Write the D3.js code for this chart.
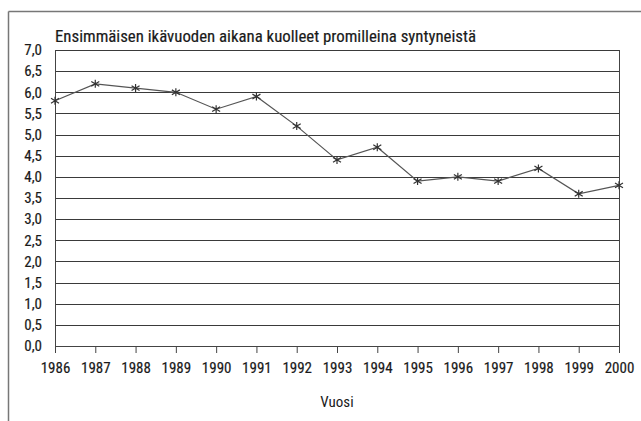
<!DOCTYPE html>
<html>
<head>
<meta charset="utf-8">
<script src="https://cdn.jsdelivr.net/npm/d3@7"></script>
<style>
  body { margin: 0; background: #fff; }
  text { font-family: "Liberation Sans Narrow", "Roboto Condensed", "Liberation Sans", sans-serif; fill: #1a1a1a; stroke: #1a1a1a; stroke-width: 0.18px; }
</style>
</head>
<body>
<div id="viz"></div>
<script>
// vuodet ja kuolleisuus (promillea)
const years = [1986, 1987, 1988, 1989, 1990, 1991, 1992, 1993, 1994, 1995, 1996, 1997, 1998, 1999, 2000];
const deaths = [5.8, 6.2, 6.1, 6.0, 5.6, 5.9, 5.2, 4.4, 4.7, 3.9, 4.0, 3.9, 4.2, 3.6, 3.8];
const yTicks = [0, 0.5, 1, 1.5, 2, 2.5, 3, 3.5, 4, 4.5, 5, 5.5, 6, 6.5, 7];
const title = "Ensimmäisen ikävuoden aikana kuolleet promilleina syntyneistä";
const xTitle = "Vuosi";

const width = 641, height = 421;
const margin = {top: 50, right: 22, bottom: 75, left: 55};

const svg = d3.select('#viz')
  .append('svg')
  .attr('width', width)
  .attr('height', height);

// outer frame (only top and left visible)
svg.append('line')
  .attr('x1', 8.5).attr('x2', width).attr('y1', 11.5).attr('y2', 11.5)
  .attr('stroke', '#777').attr('stroke-width', 1.5);
svg.append('line')
  .attr('x1', 8.5).attr('x2', 8.5).attr('y1', 11.5).attr('y2', height)
  .attr('stroke', '#777').attr('stroke-width', 1.5);

const x = d3.scaleLinear()
  .domain([years[0], years[years.length - 1]])
  .range([margin.left, width - margin.right]);
const y = d3.scaleLinear()
  .domain([0, 7])
  .range([height - margin.bottom, margin.top]);

// gridlines
svg.append('g')
  .selectAll('line')
  .data(yTicks)
  .join('line')
  .attr('x1', margin.left).attr('x2', width - margin.right)
  .attr('y1', d => Math.round(y(d)) + 0.5).attr('y2', d => Math.round(y(d)) + 0.5)
  .attr('stroke', '#3a3a3a').attr('stroke-width', 1.1);

// plot box sides
svg.append('line')
  .attr('x1', margin.left + 0.5).attr('x2', margin.left + 0.5)
  .attr('y1', y(7)).attr('y2', y(0))
  .attr('stroke', '#444');
svg.append('line')
  .attr('x1', width - margin.right + 0.5).attr('x2', width - margin.right + 0.5)
  .attr('y1', y(7)).attr('y2', y(0))
  .attr('stroke', '#444');

// y axis labels
const yAxis = svg.append('g')
  .attr('transform', `translate(${margin.left},0)`)
  .call(d3.axisLeft(y).tickValues(yTicks).tickSize(0).tickPadding(13)
    .tickFormat(d => d3.format('.1f')(d).replace('.', ',')));
yAxis.select('.domain').remove();
yAxis.selectAll('text').attr('font-size', 15).attr('font-family', null).attr('fill', null);

// x axis
const xAxis = svg.append('g')
  .attr('transform', `translate(0,${y(0)})`)
  .call(d3.axisBottom(x).tickValues(years).tickSize(7).tickPadding(9).tickFormat(d3.format('d')));
xAxis.select('.domain').attr('stroke', '#444');
xAxis.selectAll('line').attr('stroke', '#444');
xAxis.selectAll('text').attr('font-size', 15).attr('font-family', null).attr('fill', null);

// data line
const line = d3.line()
  .x((d, i) => x(years[i]))
  .y(d => y(d));
svg.append('path')
  .datum(deaths)
  .attr('d', line)
  .attr('fill', 'none')
  .attr('stroke', '#555')
  .attr('stroke-width', 1.2);

// asterisk markers
const s = 4;
const star = `M0,${-s}L0,${s}M${-s},${-s * 0.6}L${s},${s * 0.6}M${-s},${s * 0.6}L${s},${-s * 0.6}`;
svg.append('g')
  .selectAll('path')
  .data(deaths)
  .join('path')
  .attr('transform', (d, i) => `translate(${x(years[i])},${y(d)})`)
  .attr('d', star)
  .attr('fill', 'none')
  .attr('stroke', '#333')
  .attr('stroke-width', 1.2);

// titles
svg.append('text')
  .attr('x', margin.left)
  .attr('y', 42)
  .attr('font-size', 16)
  .attr('textLength', 421)
  .attr('lengthAdjust', 'spacingAndGlyphs')
  .text(title);

svg.append('text')
  .attr('x', 337)
  .attr('y', 407)
  .attr('text-anchor', 'middle')
  .attr('font-size', 15)
  .style('stroke-width', '0px')
  .text(xTitle);
</script>
</body>
</html>
